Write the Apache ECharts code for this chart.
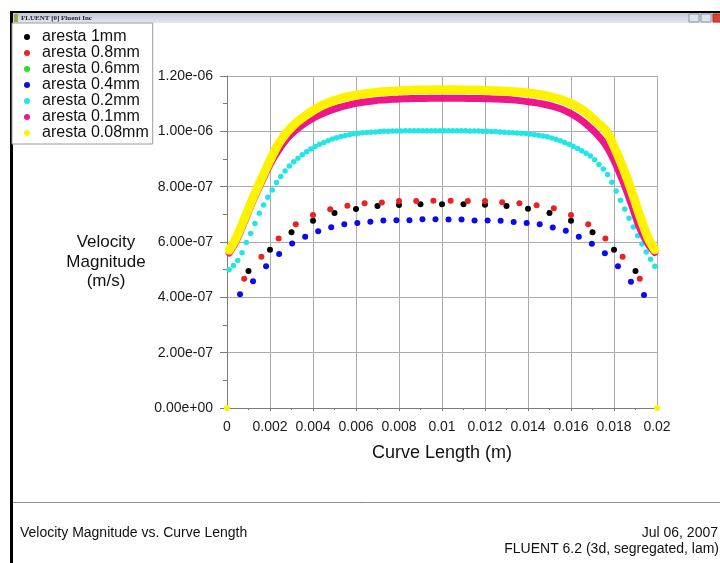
<!DOCTYPE html>
<html>
<head>
<meta charset="UTF-8"/>
<title>Velocity Magnitude vs. Curve Length</title>
<script src="https://cdn.jsdelivr.net/npm/echarts@6/dist/echarts.min.js"></script>
<style>
html, body { margin:0; padding:0; background:#fff; }
#placeholder { width:720px; height:563px; }
</style>
</head>
<body>
<div id="placeholder"></div>
<script type="text/javascript">
var E7 = 1e-7;
var names = ['aresta 1mm', 'aresta 0.8mm', 'aresta 0.6mm', 'aresta 0.4mm', 'aresta 0.2mm', 'aresta 0.1mm', 'aresta 0.08mm'];
var colors = ['#000000', '#ec2222', '#1ee61e', '#0a0aee', '#22e6e6', '#ee168a', '#fff200'];

var xTickLabels = ['0', '0.002', '0.004', '0.006', '0.008', '0.01', '0.012', '0.014', '0.016', '0.018', '0.02'];
var yTickLabels = ['0.00e+00', '2.00e-07', '4.00e-07', '6.00e-07', '8.00e-07', '1.00e-06', '1.20e-06'];

var x1mm = [0.001, 0.002, 0.003, 0.004, 0.005, 0.006, 0.007, 0.008, 0.009, 0.010,
            0.011, 0.012, 0.013, 0.014, 0.015, 0.016, 0.017, 0.018, 0.019];
var v1mm = [4.95, 5.72, 6.35, 6.77, 7.05, 7.19, 7.30, 7.34, 7.36, 7.36,
            7.36, 7.35, 7.30, 7.20, 7.05, 6.77, 6.35, 5.72, 4.95];

var x08mm = [0.0008, 0.0016, 0.0024, 0.0032, 0.0040, 0.0048, 0.0056, 0.0064, 0.0072, 0.0080, 0.0088, 0.0096,
             0.0104, 0.0112, 0.0120, 0.0128, 0.0136, 0.0144, 0.0152, 0.0160, 0.0168, 0.0176, 0.0184, 0.0192];
var v08mm = [4.67, 5.47, 6.13, 6.64, 6.98, 7.18, 7.31, 7.40, 7.43, 7.48, 7.48, 7.49,
             7.49, 7.48, 7.48, 7.44, 7.40, 7.33, 7.22, 6.98, 6.64, 6.13, 5.47, 4.67];

// 0.6mm is in the legend but none of its points show in the picture
var x06mm = [];
var v06mm = [];

var x04mm = [0.000606, 0.001212, 0.001818, 0.002424, 0.003030, 0.003636, 0.004242, 0.004848,
             0.005455, 0.006061, 0.006667, 0.007273, 0.007879, 0.008485, 0.009091, 0.009697,
             0.010303, 0.010909, 0.011515, 0.012121, 0.012727, 0.013333, 0.013939, 0.014545,
             0.015152, 0.015758, 0.016364, 0.016970, 0.017576, 0.018182, 0.018788, 0.019394];
var v04mm = [4.11, 4.58, 5.12, 5.57, 5.95, 6.19, 6.39, 6.53,
             6.64, 6.69, 6.73, 6.78, 6.79, 6.79, 6.82, 6.82,
             6.81, 6.81, 6.78, 6.78, 6.77, 6.72, 6.69, 6.64,
             6.52, 6.41, 6.19, 5.94, 5.59, 5.12, 4.56, 4.08];

var x02mm = [0.0001, 0.0003, 0.0005, 0.0007, 0.0009, 0.0011, 0.0013, 0.0015, 0.0017, 0.0019,
             0.0021, 0.0023, 0.0025, 0.0027, 0.0029, 0.0031, 0.0033, 0.0035, 0.0037, 0.0039,
             0.0041, 0.0043, 0.0045, 0.0047, 0.0049, 0.0051, 0.0053, 0.0055, 0.0057, 0.0059,
             0.0061, 0.0063, 0.0065, 0.0067, 0.0069, 0.0071, 0.0073, 0.0075, 0.0077, 0.0079,
             0.0081, 0.0083, 0.0085, 0.0087, 0.0089, 0.0091, 0.0093, 0.0095, 0.0097, 0.0099,
             0.0101, 0.0103, 0.0105, 0.0107, 0.0109, 0.0111, 0.0113, 0.0115, 0.0117, 0.0119,
             0.0121, 0.0123, 0.0125, 0.0127, 0.0129, 0.0131, 0.0133, 0.0135, 0.0137, 0.0139,
             0.0141, 0.0143, 0.0145, 0.0147, 0.0149, 0.0151, 0.0153, 0.0155, 0.0157, 0.0159,
             0.0161, 0.0163, 0.0165, 0.0167, 0.0169, 0.0171, 0.0173, 0.0175, 0.0177, 0.0179,
             0.0181, 0.0183, 0.0185, 0.0187, 0.0189, 0.0191, 0.0193, 0.0195, 0.0197, 0.0199];
var v02mm = [5.00, 5.15, 5.33, 5.61, 5.98, 6.31, 6.67, 7.04, 7.34, 7.62,
             7.88, 8.15, 8.37, 8.57, 8.75, 8.90, 9.03, 9.15, 9.26, 9.36,
             9.45, 9.53, 9.60, 9.66, 9.72, 9.77, 9.81, 9.85, 9.88, 9.91,
             9.93, 9.95, 9.96, 9.97, 9.98, 9.99, 10.00, 10.00, 10.01, 10.01,
             10.01, 10.02, 10.02, 10.02, 10.02, 10.02, 10.02, 10.02, 10.02, 10.02,
             10.02, 10.02, 10.02, 10.02, 10.02, 10.02, 10.01, 10.01, 10.01, 10.00,
             10.00, 9.99, 9.99, 9.98, 9.97, 9.96, 9.95, 9.94, 9.93, 9.92,
             9.90, 9.88, 9.86, 9.83, 9.80, 9.76, 9.71, 9.66, 9.60, 9.53,
             9.46, 9.38, 9.30, 9.21, 9.11, 8.97, 8.80, 8.64, 8.44, 8.16,
             7.84, 7.51, 7.19, 6.86, 6.54, 6.23, 5.93, 5.64, 5.38, 5.12];

// 0.1mm and 0.08mm are dense enough to read as a thick band
var xFine = [0.0001, 0.0004, 0.0008, 0.0012, 0.0016, 0.0020, 0.0024, 0.0028, 0.0032, 0.0036,
             0.0040, 0.0044, 0.0048, 0.0052, 0.0056, 0.0060, 0.0064, 0.0068, 0.0072, 0.0076,
             0.0080, 0.0084, 0.0088, 0.0092, 0.0096, 0.0100, 0.0104, 0.0108, 0.0112, 0.0116,
             0.0120, 0.0124, 0.0128, 0.0132, 0.0136, 0.0140, 0.0144, 0.0148, 0.0152, 0.0156,
             0.0160, 0.0164, 0.0168, 0.0172, 0.0176, 0.0180, 0.0184, 0.0188, 0.0192, 0.0196, 0.0199];
var v01mm = [5.60, 5.98, 6.70, 7.47, 8.15, 8.80, 9.32, 9.74, 10.04, 10.28,
             10.47, 10.62, 10.75, 10.86, 10.94, 11.01, 11.06, 11.10, 11.13, 11.15,
             11.17, 11.18, 11.19, 11.19, 11.20, 11.20, 11.20, 11.20, 11.19, 11.19,
             11.18, 11.17, 11.16, 11.14, 11.11, 11.07, 11.03, 10.97, 10.89, 10.79,
             10.64, 10.45, 10.20, 9.90, 9.52, 8.95, 8.22, 7.38, 6.50, 5.90, 5.62];
var v008mm = [5.70, 6.10, 6.82, 7.58, 8.27, 8.95, 9.55, 9.98, 10.30, 10.54,
              10.75, 10.93, 11.06, 11.17, 11.25, 11.31, 11.36, 11.40, 11.43, 11.45,
              11.47, 11.48, 11.49, 11.49, 11.50, 11.50, 11.50, 11.50, 11.49, 11.49,
              11.48, 11.47, 11.46, 11.44, 11.42, 11.39, 11.35, 11.30, 11.22, 11.13,
              11.00, 10.84, 10.62, 10.33, 10.05, 9.45, 8.72, 7.88, 6.95, 6.12, 5.72];
// wall nodes of the 0.08mm line
var xWall = [0, 0.02];
var vWall = [0, 0];

function pts(xs, vs) {
    var out = [];
    for (var i = 0; i < xs.length; i++) out.push([xs[i], vs[i] * E7]);
    return out;
}

var FONT = '"Liberation Sans", Arial, sans-serif';
var myChart = echarts.init(document.getElementById('placeholder'));

function dots(i, xs, vs, size) {
    return {
        name: names[i], type: 'scatter', data: pts(xs, vs),
        symbolSize: size, itemStyle: { color: colors[i], opacity: 1 },
        emphasis: { disabled: true }
    };
}
function band(i, xs, vs, width) {
    return {
        name: names[i], type: 'line', data: pts(xs, vs),
        showSymbol: false, smooth: 0.3, color: colors[i],
        lineStyle: { color: colors[i], width: width, cap: 'round', join: 'round' },
        emphasis: { disabled: true }
    };
}

var option = {
    animation: false,
    backgroundColor: '#ffffff',
    grid: { left: 227, top: 76, width: 430, height: 332 },
    legend: {
        orient: 'vertical', left: 12, top: 23,
        data: names, icon: 'circle',
        itemWidth: 20, itemHeight: 6, itemGap: 0,
        padding: [6, 4, 3, 12],
        backgroundColor: '#ffffff', borderColor: '#9c9c9c', borderWidth: 1, borderRadius: 0,
        selectedMode: false,
        textStyle: { fontFamily: FONT, fontSize: 16, color: '#111', lineHeight: 15.7 }
    },
    xAxis: {
        type: 'value', min: 0, max: 0.02, interval: 0.002,
        axisLine: { lineStyle: { color: '#7c7c7c' } },
        axisTick: { show: true, length: 3, lineStyle: { color: '#7c7c7c' } },
        minorTick: { show: true, splitNumber: 2, length: 2, lineStyle: { color: '#7c7c7c' } },
        splitLine: { show: true, lineStyle: { color: '#ababab', width: 1 } },
        axisLabel: {
            margin: 12, fontFamily: FONT, fontSize: 14, color: '#1a1a1a',
            formatter: function (v) { return xTickLabels[Math.round(v / 0.002)]; }
        },
        name: 'Curve Length (m)', nameLocation: 'middle', nameGap: 36,
        nameTextStyle: { fontFamily: FONT, fontSize: 18, color: '#111' }
    },
    yAxis: {
        type: 'value', min: 0, max: 1.2e-6, interval: 2e-7,
        axisLine: { show: true, lineStyle: { color: '#7c7c7c' } },
        axisTick: { show: true, length: 7, lineStyle: { color: '#7c7c7c' } },
        minorTick: { show: true, splitNumber: 2, length: 4, lineStyle: { color: '#7c7c7c' } },
        splitLine: { show: true, lineStyle: { color: '#ababab', width: 1 } },
        axisLabel: {
            margin: 14, fontFamily: FONT, fontSize: 14, color: '#1a1a1a',
            formatter: function (v) { return yTickLabels[Math.round(v / 2e-7)]; }
        }
    },
    graphic: [
        // window frame
        { type: 'rect', shape: { x: 10, y: 11, width: 710, height: 2 }, style: { fill: '#000' }, silent: true },
        { type: 'rect', shape: { x: 10, y: 11, width: 3, height: 552 }, style: { fill: '#000' }, silent: true },
        { type: 'rect', shape: { x: 13, y: 13, width: 707, height: 10 }, silent: true,
          style: { fill: new echarts.graphic.LinearGradient(0, 0, 0, 1, [
              { offset: 0, color: '#c3cadb' }, { offset: 1, color: '#e4e7ee' }]) } },
        { type: 'rect', shape: { x: 14, y: 14, width: 4, height: 8 }, style: { fill: '#9aa83c' }, silent: true },
        { type: 'text', x: 21, y: 14.5, silent: true,
          style: { text: 'FLUENT [0] Fluent Inc', fontFamily: '"Liberation Serif", serif', fontSize: 7, fontWeight: 'bold', fill: '#223' } },
        { type: 'rect', shape: { x: 689, y: 14, width: 10, height: 8 }, style: { fill: '#dfe3ec', stroke: '#8a93a8', lineWidth: 1 }, silent: true },
        { type: 'rect', shape: { x: 701, y: 14, width: 10, height: 8 }, style: { fill: '#dfe3ec', stroke: '#8a93a8', lineWidth: 1 }, silent: true },
        { type: 'rect', shape: { x: 713, y: 14, width: 10, height: 8 }, style: { fill: '#d8432f', stroke: '#a0301f', lineWidth: 1 }, silent: true },
        // y axis title
        { type: 'text', x: 106, y: 233, silent: true,
          style: { text: 'Velocity\nMagnitude\n(m/s)', align: 'center', verticalAlign: 'top',
                   fontFamily: FONT, fontSize: 17, lineHeight: 19.5, fill: '#111' } },
        // footer
        { type: 'line', shape: { x1: 13, y1: 502.5, x2: 720, y2: 502.5 }, style: { stroke: '#8c8c8c', lineWidth: 1 }, silent: true },
        { type: 'text', x: 20, y: 533, silent: true,
          style: { text: 'Velocity Magnitude vs. Curve Length', verticalAlign: 'middle',
                   fontFamily: FONT, fontSize: 14, fill: '#111' } },
        { type: 'text', x: 718, y: 533, silent: true,
          style: { text: 'Jul 06, 2007', align: 'right', verticalAlign: 'middle',
                   fontFamily: FONT, fontSize: 14, fill: '#111' } },
        { type: 'text', x: 719, y: 549, silent: true,
          style: { text: 'FLUENT 6.2 (3d, segregated, lam)', align: 'right', verticalAlign: 'middle',
                   fontFamily: FONT, fontSize: 14, fill: '#111' } }
    ],
    series: [
        dots(0, x1mm, v1mm, 6),
        dots(1, x08mm, v08mm, 6),
        dots(2, x06mm, v06mm, 6),
        dots(3, x04mm, v04mm, 6),
        dots(4, x02mm, v02mm, 5.5),
        band(5, xFine, v01mm, 7),
        band(6, xFine, v008mm, 9),
        dots(6, xWall, vWall, 6)
    ]
};
myChart.setOption(option, true);
</script>
</body>
</html>
